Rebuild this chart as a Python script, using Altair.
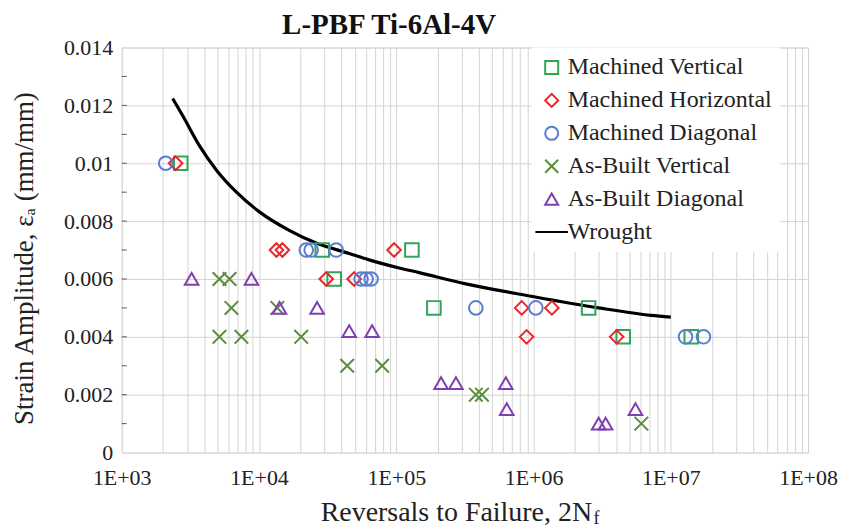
import altair as alt
import pandas as pd

# ---------------- data ----------------
mv_n = [2690, 28900, 130000, 35300, 188000, 2520000, 4500000, 14100000]
mv_e = [0.010, 0.007, 0.007, 0.006, 0.005, 0.005, 0.004, 0.004]

mh_n = [2470, 13400, 14800, 30900, 49300, 96400, 820000, 1360000, 890000, 4030000]
mh_e = [0.010, 0.007, 0.007, 0.006, 0.006, 0.007, 0.005, 0.005, 0.004, 0.004]

md_n = [2090, 22100, 24000, 36500, 55400, 60300, 65600, 380000, 1040000, 12800000, 17300000]
md_e = [0.010, 0.007, 0.007, 0.007, 0.006, 0.006, 0.006, 0.005, 0.005, 0.004, 0.004]

av_n = [5150, 6100, 6300, 13600, 5150, 7450, 20300, 43900, 78900, 380000, 421000, 6100000]
av_e = [0.006, 0.006, 0.005, 0.005, 0.004, 0.004, 0.004, 0.003, 0.003, 0.002, 0.002, 0.001]

ad_n = [3230, 8810, 14100, 26500, 45400, 66700, 212000, 272000, 628000, 638000, 2980000, 3350000, 5530000]
ad_e = [0.006, 0.006, 0.005, 0.005, 0.0042, 0.0042, 0.0024, 0.0024, 0.0024, 0.0015, 0.001, 0.001, 0.0015]

wr_n = [2350, 2770, 3690, 4900, 6850, 10070, 16600, 26100, 45400, 63400, 105000, 147000,
        321000, 970000, 2980000, 7200000, 10000000]
wr_e = [0.01224, 0.01166, 0.0106, 0.00976, 0.0090, 0.00832, 0.00768, 0.00724, 0.00688, 0.00666,
        0.00638, 0.00622, 0.00583, 0.0054, 0.0050, 0.00474, 0.00468]

names = ["Machined Vertical", "Machined Horizontal", "Machined Diagonal",
         "As-Built Vertical", "As-Built Diagonal", "Wrought"]
colors = ["#2fa655", "#e8262b", "#5b7ed0", "#5b8c3c", "#7f3fb0", "#000000"]
shapes = ["square", "diamond", "circle", "M-1,-1L1,1M-1,1L1,-1", "triangle-up", "M-2.5,0L2.5,0"]

x_ticks = [m * 10 ** d for d in range(3, 8) for m in range(1, 10)] + [10 ** 8]
y_ticks = [i / 1000 for i in range(0, 15)]
y_minor = [i / 1000 for i in range(1, 14)]

title_text = "L-PBF Ti-6Al-4V"

# ---------------- tables ----------------
rows = []
for name, ns, es in [(names[0], mv_n, mv_e), (names[1], mh_n, mh_e), (names[2], md_n, md_e),
                     (names[3], av_n, av_e), (names[4], ad_n, ad_e)]:
    for n, e in zip(ns, es):
        rows.append({"series": name, "N": n, "e": e})
points = pd.DataFrame(rows)
wrought = pd.DataFrame({"series": "Wrought", "N": wr_n, "e": wr_e})
ticks_df = pd.DataFrame({"e": y_minor})

FONT = "Liberation Serif"

xscale = alt.Scale(type="log", domain=[1e3, 1e8], nice=False)
yscale = alt.Scale(domain=[0, 0.014], nice=False, zero=True)
cscale = alt.Scale(domain=names, range=colors)
sscale = alt.Scale(domain=names, range=shapes)

xaxis = alt.Axis(
    values=x_ticks,
    labelExpr="abs(log(datum.value)/LN10 - round(log(datum.value)/LN10)) < 0.001 ? '1E+0' + round(log(datum.value)/LN10) : ''",
    labelFont=FONT, labelFontSize=22, labelColor="#222", labelPadding=15,
    labelFlush=False, labelOverlap=False, ticks=False, domain=False,
    grid=True, gridColor="#d4d4d4", gridWidth=1,
    title="Reversals to Failure, 2N", titleFont=FONT, titleFontSize=28,
    titleFontWeight="normal", titleColor="#222",
    titleX=471, titleY=68, titleAlign="right", titleBaseline="alphabetic",
)
yaxis = alt.Axis(
    values=y_ticks,
    labelExpr="round(datum.value*1000) % 2 == 0 ? (datum.value == 0 ? '0' : format(datum.value, '.3~f')) : ''",
    labelFont=FONT, labelFontSize=22, labelColor="#222", labelPadding=9,
    labelOverlap=False, ticks=False, domain=False,
    grid=True, gridColor="#d4d4d4", gridWidth=1,
    gridOpacity={"condition": {"test": "round(datum.value*1000) % 2 == 1", "value": 0}, "value": 1},
    title="Strain Amplitude, \u03b5\u2090 (mm/mm)", titleFont=FONT, titleFontSize=27,
    titleFontWeight="normal", titleColor="#222",
    titleAngle=-90, titleX=-97, titleY=211, titleAlign="center", titleBaseline="middle",
)

legend = alt.Legend(
    title=None, orient="none", legendX=411, legendY=0,
    fillColor="white", padding=8,
    labelFont=FONT, labelFontSize=24, labelColor="#222", labelOffset=4, labelLimit=400,
    symbolSize=170, symbolStrokeWidth=2, rowPadding=9,
    labelExpr="datum.label == 'Machined Diagonal' ? '\u00a0' + datum.label : datum.label",
)

line = alt.Chart(wrought).mark_line(strokeWidth=3.2, interpolate="monotone").encode(
    x=alt.X("N:Q", scale=xscale, axis=xaxis),
    y=alt.Y("e:Q", scale=yscale, axis=yaxis),
    color=alt.Color("series:N", scale=cscale, legend=legend),
)

pts = alt.Chart(points).mark_point(filled=False, size=185, strokeWidth=2, opacity=1).encode(
    x=alt.X("N:Q", scale=xscale, axis=xaxis),
    y=alt.Y("e:Q", scale=yscale, axis=yaxis),
    color=alt.Color("series:N", scale=cscale, legend=legend),
    shape=alt.Shape("series:N", scale=sscale, legend=legend),
)

inner_ticks = alt.Chart(ticks_df).mark_rule(color="#555", strokeWidth=1).encode(
    y=alt.Y("e:Q", scale=yscale, axis=yaxis),
    x=alt.value(0), x2=alt.value(5),
)

sub_f = alt.Chart(pd.DataFrame({"t": ["f"]})).mark_text(
    font=FONT, fontSize=18, color="#222", align="left", baseline="alphabetic"
).encode(text="t:N", x=alt.value(473), y=alt.value(478))

title_mark = alt.Chart(pd.DataFrame({"t": [title_text]})).mark_text(
    font=FONT, fontSize=29, fontWeight="bold", color="#111", align="center", baseline="alphabetic"
).encode(text="t:N", x=alt.value(268), y=alt.value(-14))

chart = alt.layer(inner_ticks, line, pts, sub_f, title_mark).properties(
    width=688, height=406,
    padding={"left": 114, "top": 39, "right": 30, "bottom": 78},
    autosize=alt.AutoSizeParams(type="none"),
).configure_view(
    stroke="#555", strokeWidth=1.5
).configure_legend(
    labelFont=FONT, labelFontSize=24, labelLimit=400, labelColor="#222"
).configure(background="white")

chart.save("out.html", embed_options={"renderer": "svg", "actions": False})
